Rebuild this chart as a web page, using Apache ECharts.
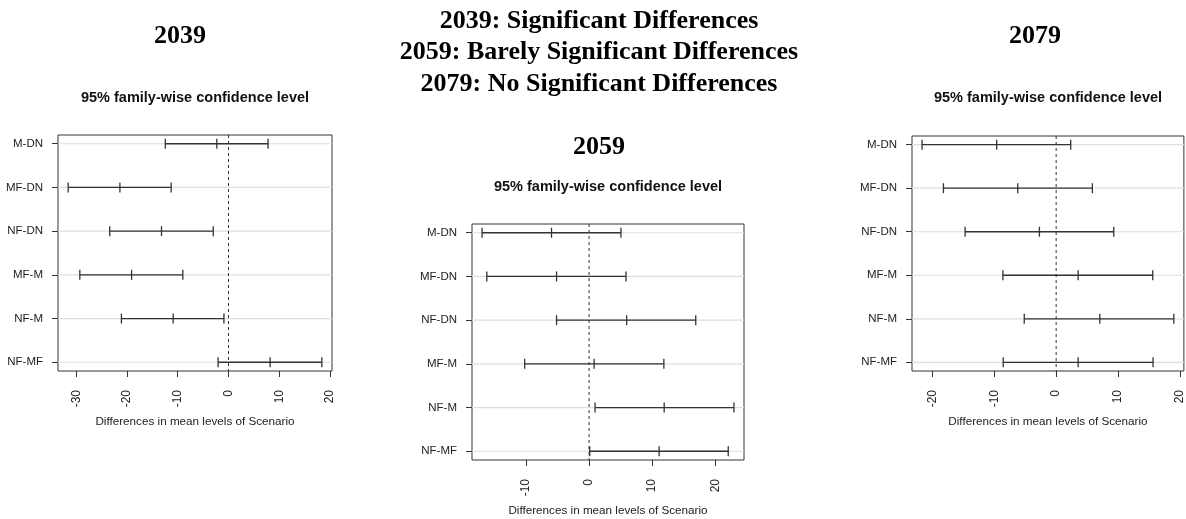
<!DOCTYPE html>
<html>
<head>
<meta charset="utf-8">
<script src="https://cdn.jsdelivr.net/npm/echarts@6/dist/echarts.min.js"></script>
<style>
  html, body { margin: 0; padding: 0; background: #fff; }
  #chart { width: 1186px; height: 519px; }
</style>
</head>
<body>
<div id="chart"></div>
<script>
// Tukey HSD pairwise comparisons of scenario means, one panel per year
const comparisons = ['M-DN', 'MF-DN', 'NF-DN', 'MF-M', 'NF-M', 'NF-MF'];
const years = ['2039', '2059', '2079'];

const diff2039 = [-2.3, -21.4, -13.2, -19.1, -10.9, 8.2];
const lwr2039  = [-12.45, -31.6, -23.4, -29.3, -21.1, -2.05];
const upr2039  = [7.8, -11.3, -3.0, -9.0, -0.9, 18.4];

const diff2059 = [-5.95, -5.15, 5.95, 0.8, 11.9, 11.1];
const lwr2059  = [-16.95, -16.2, -5.15, -10.2, 0.95, 0.1];
const upr2059  = [5.05, 5.85, 16.9, 11.85, 22.95, 22.05];

const diff2079 = [-9.6, -6.2, -2.7, 3.55, 7.05, 3.55];
const lwr2079  = [-21.65, -18.2, -14.7, -8.6, -5.15, -8.55];
const upr2079  = [2.35, 5.85, 9.3, 15.6, 19.0, 15.65];

const xTicks2039 = [-30, -20, -10, 0, 10, 20];
const xTicks2059 = [-10, 0, 10, 20];
const xTicks2079 = [-20, -10, 0, 10, 20];

const headline = [
  '2039: Significant Differences',
  '2059: Barely Significant Differences',
  '2079: No Significant Differences'
];
const panelTitle = '95% family-wise confidence level';
const xAxisTitle = 'Differences in mean levels of Scenario';

const panels = [
  { year: years[0], diff: diff2039, lwr: lwr2039, upr: upr2039, ticks: xTicks2039,
    grid: { left: 58, top: 135, width: 274, height: 236 },
    yearPos: [180, 36], subPos: [195, 98] },
  { year: years[1], diff: diff2059, lwr: lwr2059, upr: upr2059, ticks: xTicks2059,
    grid: { left: 472, top: 224, width: 272, height: 236 },
    yearPos: [599, 147], subPos: [608, 187] },
  { year: years[2], diff: diff2079, lwr: lwr2079, upr: upr2079, ticks: xTicks2079,
    grid: { left: 912, top: 136, width: 272, height: 235 },
    yearPos: [1035, 36], subPos: [1048, 98] }
];

const SANS = '"Liberation Sans", Arial, sans-serif';
const SERIF = '"Liberation Serif", "Times New Roman", serif';
const INK = '#333';
const rows = comparisons.map((_, i) => i + 1);

// one confidence interval: horizontal segment with end and centre whiskers
function ciRender(params, api) {
  const y = api.value(3);
  const a = api.coord([api.value(0), y]);
  const m = api.coord([api.value(1), y]);
  const b = api.coord([api.value(2), y]);
  const h = 5;
  const style = { stroke: INK, lineWidth: 1.3 };
  const tick = p => ({ type: 'line', shape: { x1: p[0], y1: p[1] - h, x2: p[0], y2: p[1] + h }, style });
  return {
    type: 'group',
    children: [
      { type: 'line', shape: { x1: a[0], y1: a[1], x2: b[0], y2: b[1] }, style },
      tick(a), tick(m), tick(b)
    ]
  };
}

// light row guide across the panel; the first row also carries the dashed zero reference
function guideRender(params, api) {
  const cs = params.coordSys;
  const p = api.coord([0, api.value(3)]);
  const children = [{
    type: 'line',
    shape: { x1: cs.x, y1: p[1], x2: cs.x + cs.width, y2: p[1] },
    style: { stroke: '#dedede', lineWidth: 1.2 }
  }];
  if (params.dataIndex === 0) {
    children.push({
      type: 'line', z2: 5,
      shape: { x1: p[0], y1: cs.y, x2: p[0], y2: cs.y + cs.height },
      style: { stroke: INK, lineWidth: 1, lineDash: [3, 3] }
    });
  }
  return { type: 'group', children };
}

const grid = [], xAxis = [], yAxis = [], series = [], graphic = [];

panels.forEach((pn, k) => {
  const lo = Math.min(...pn.lwr), hi = Math.max(...pn.upr);
  const pad = 0.04 * (hi - lo);
  grid.push(Object.assign({ show: true, borderColor: INK, borderWidth: 1, backgroundColor: 'transparent' }, pn.grid));
  xAxis.push({
    type: 'value', gridIndex: k, position: 'bottom', min: lo - pad, max: hi + pad,
    axisLine: { show: false, onZero: false }, splitLine: { show: false },
    axisTick: { customValues: pn.ticks, length: 6, lineStyle: { color: INK, width: 1 } },
    axisLabel: { customValues: pn.ticks, rotate: 90, margin: 19, fontSize: 12, color: '#222', fontFamily: SANS },
    name: xAxisTitle, nameLocation: 'middle', nameGap: 45,
    nameTextStyle: { fontSize: 11.7, color: '#222', fontFamily: SANS }
  });
  yAxis.push({
    type: 'value', gridIndex: k, position: 'left', inverse: true, min: 0.8, max: 6.2,
    axisLine: { show: false, onZero: false }, splitLine: { show: false },
    axisTick: { customValues: rows, length: 6, lineStyle: { color: INK, width: 1 } },
    axisLabel: { customValues: rows, formatter: v => comparisons[v - 1], margin: 15,
                 fontSize: 11.5, color: '#222', fontFamily: SANS }
  });
  const data = comparisons.map((_, i) => [pn.lwr[i], pn.diff[i], pn.upr[i], i + 1]);
  series.push({
    type: 'custom', xAxisIndex: k, yAxisIndex: k, z: 1, silent: true,
    renderItem: guideRender, data, encode: { x: [0, 1, 2], y: 3 }
  });
  series.push({
    type: 'custom', xAxisIndex: k, yAxisIndex: k, z: 3, silent: true,
    renderItem: ciRender, data, encode: { x: [0, 1, 2], y: 3 }
  });
  graphic.push({
    type: 'text', x: pn.yearPos[0], y: pn.yearPos[1],
    style: { text: pn.year, fill: '#000', font: 'bold 26px ' + SERIF, align: 'center', verticalAlign: 'middle' }
  });
  graphic.push({
    type: 'text', x: pn.subPos[0], y: pn.subPos[1],
    style: { text: panelTitle, fill: '#111', font: 'bold 14.5px ' + SANS, align: 'center', verticalAlign: 'middle' }
  });
});

headline.forEach((line, i) => {
  graphic.push({
    type: 'text', x: 599, y: 21 + i * 31.7,
    style: { text: line, fill: '#000', font: 'bold 26px ' + SERIF, align: 'center', verticalAlign: 'middle' }
  });
});

const chart = echarts.init(document.getElementById('chart'), null, { renderer: 'canvas' });
chart.setOption({
  backgroundColor: '#fff',
  animation: false,
  grid, xAxis, yAxis, series, graphic
});
</script>
</body>
</html>
